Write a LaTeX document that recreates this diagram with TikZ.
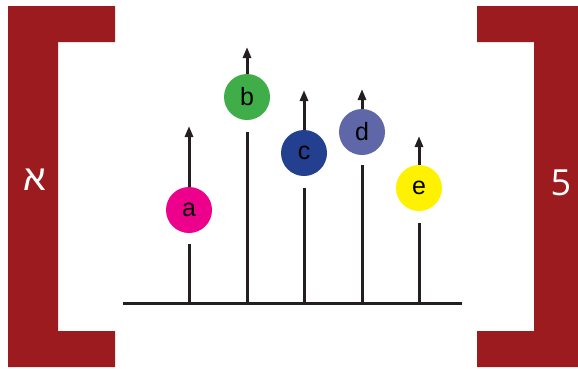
\documentclass[tikz,border=0pt]{standalone}
\usepackage{fontspec}
\setmainfont{Liberation Sans}
\newfontfamily\hebfont[Script=Hebrew]{Liberation Sans}
\newfontfamily\digitfont{Open Sans}
\TeXXeTstate=1
\usetikzlibrary{arrows.meta}
\definecolor{bracketred}{HTML}{9B1B1E}
\definecolor{inkdark}{HTML}{231F20}
\definecolor{cmag}{HTML}{EC008C}
\definecolor{cgreen}{HTML}{3FAE49}
\definecolor{cblue}{HTML}{233F8F}
\definecolor{cslate}{HTML}{5F67A8}
\definecolor{cyellow}{HTML}{FFF200}
\tikzset{
  ball/.style={circle, minimum size=46pt, inner sep=0pt, font=\fontsize{25}{25}\selectfont, text=black},
  stem/.style={line width=3pt, draw=inkdark},
  uparrow/.style={stem, -{Triangle[length=11pt,width=8pt]}},
  bracketlabel/.style={text=white, inner sep=0pt, font=\fontsize{36}{36}\selectfont}
}
\begin{document}
\begin{tikzpicture}[x=1pt,y=-1pt]
\useasboundingbox (0,0) rectangle (578,368);
% brackets
\fill[bracketred] (8,6) -- (115,6) -- (115,42) -- (58,42) -- (58,331) -- (115,331) -- (115,367) -- (8,367) -- cycle;
\fill[bracketred] (578,6) -- (477,6) -- (477,42) -- (534,42) -- (534,331) -- (477,331) -- (477,367) -- (578,367) -- cycle;
\node[bracketlabel] (alef) at (34.5,180) {\hebfont\beginR א\endR};
\node[bracketlabel, font=\digitfont\fontsize{36}{36}\selectfont] (five) at (561,183) {5};
% baseline
\coordinate (bl) at (123,303);
\coordinate (br) at (462,303);
\draw[stem] (bl) -- (br);
% balls
\node[ball, fill=cmag] (a) at (189,210) {a};
\node[ball, fill=cgreen] (b) at (247,97) {b};
\node[ball, fill=cblue] (c) at (304,153) {c};
\node[ball, fill=cslate] (d) at (362,132) {d};
\node[ball, fill=cyellow] (e) at (419,188) {e};
% stems: bottom ends on baseline, top ends below balls; arrows above balls
\coordinate (a0) at (189,303); \coordinate (a1) at (189,244); \coordinate (a2) at (189,126);
\coordinate (b0) at (247,303); \coordinate (b1) at (247,132); \coordinate (b2) at (247,47);
\coordinate (c0) at (304,303); \coordinate (c1) at (304,188); \coordinate (c2) at (304,90);
\coordinate (d0) at (362,303); \coordinate (d1) at (362,165); \coordinate (d2) at (362,89);
\coordinate (e0) at (419,303); \coordinate (e1) at (419,223); \coordinate (e2) at (419,136);
\foreach \n in {a,b,c,d,e}{
  \draw[stem] (\n0) -- (\n1);
  \draw[uparrow] (\n.north) -- (\n2);
}
\end{tikzpicture}
\end{document}
